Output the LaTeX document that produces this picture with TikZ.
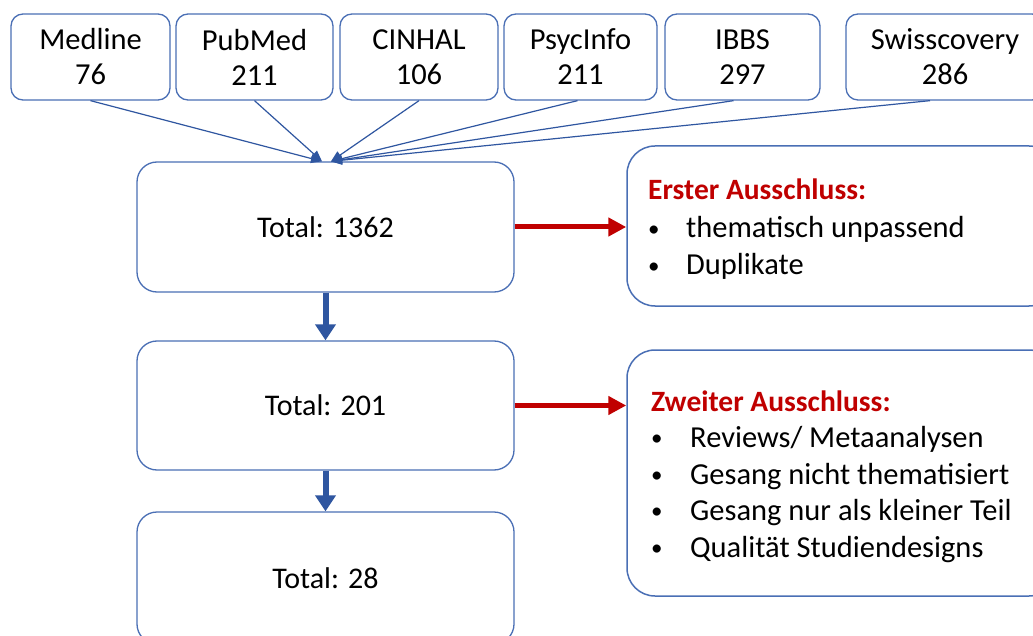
\documentclass[tikz,border=0pt]{standalone}
\usepackage{fontspec}
\setmainfont{Carlito}
\usetikzlibrary{arrows.meta,calc}
\definecolor{boxblue}{HTML}{4A6FB5}
\definecolor{arrblue}{HTML}{2F56A0}
\definecolor{exred}{HTML}{C00000}
\tikzset{
 src/.style={draw=boxblue, line width=1.3pt, rounded corners=12pt, minimum height=86pt, align=center, font=\fontsize{30.5}{35}\selectfont, inner sep=0pt},
 tot/.style={draw=boxblue, line width=1.3pt, rounded corners=20pt, minimum width=377pt, font=\fontsize{30}{33}\selectfont},
 exbox/.style={draw=boxblue, line width=1.5pt, rounded corners=28pt, minimum width=430pt},
 feed/.style={draw=arrblue, line width=1.2pt, -{Triangle[length=11pt,width=9pt]}},
 down/.style={draw=arrblue, line width=6pt, -{Triangle[length=16pt,width=20pt]}},
 excl/.style={draw=exred, line width=5pt, -{Triangle[length=18pt,width=18pt]}},
 txt/.style={anchor=base west, inner sep=0pt, font=\fontsize{30.5}{35}\selectfont},
 head/.style={anchor=base west, inner sep=0pt, text=exred, font=\fontsize{29.5}{35}\selectfont\bfseries}
}
\newcommand{\bul}{\makebox[35pt][l]{\raisebox{1.5pt}{\fontsize{23}{23}\selectfont •}}}
\begin{document}
\begin{tikzpicture}[x=1pt,y=-1pt]
\useasboundingbox (0,0) rectangle (1033,636);
\fill[white] (0,0) rectangle (1033,636);
\clip (0,0) rectangle (1033,636);
% source boxes
\node[src, minimum width=159pt] (med) at (90.5,57) {Medline\\76};
\node[src, minimum width=157pt] (pub) at (254.5,57) {PubMed\\211};
\node[src, minimum width=158pt] (cin) at (419,57) {CINHAL\\106};
\node[src, minimum width=153pt] (psy) at (580.5,57) {PsycInfo\\211};
\node[src, minimum width=155pt] (ibb) at (742.5,57) {IBBS\\297};
\node[src, minimum width=198pt] (swi) at (945,57) {Swisscovery\\286};
% totals
\node[tot, minimum height=130pt] (t1) at (325.5,227) {Total: 1362};
\node[tot, minimum height=129pt] (t2) at (325.5,405.5) {Total: 201};
\node[tot, minimum height=132pt] (t3) at (325.5,578) {Total: 28};
% exclusion boxes
\node[exbox, minimum height=160pt] (e1) at (842,226) {};
\node[exbox, minimum height=246pt] (e2) at (842,473) {};
\coordinate (inl) at ($(t1.north)+(-3.5,0)$);
\coordinate (inr) at ($(t1.north)+(5.5,0)$);
% feed arrows
\draw[feed] (med.south) -- (inl);
\draw[feed] (pub.south) -- (inl);
\draw[feed] (cin.south) -- (inr);
\draw[feed] ($(psy.south)+(-3,0)$) -- (inr);
\draw[feed] ($(ibb.south)+(-9,0)$) -- (inr);
\draw[feed] ($(swi.south)+(-15,0)$) -- (inr);
% down arrows
\draw[down] (t1.south) -- (t2.north);
\draw[down] (t2.south) -- (t3.north);
% exclusion arrows
\draw[excl] (t1.east) -- (t1.east -| e1.west);
\draw[excl] (t2.east) -- (t2.east -| e2.west);
% exclusion texts
\node[head] (e1h) at (648,200) {Erster Ausschluss:};
\node[txt] (e1a) at (648,238) {\bul\hspace{3pt}thematisch unpassend};
\node[txt] (e1b) at (648,275) {\bul\hspace{3pt}Duplikate};
\node[head] (e2h) at (651,411) {Zweiter Ausschluss:};
\node[txt] (e2a) at (651,447) {\bul\hspace{4pt}Reviews/ Metaanalysen};
\node[txt] (e2b) at (651,484) {\bul\hspace{4pt}Gesang nicht thematisiert};
\node[txt] (e2c) at (651,520) {\bul\hspace{4pt}Gesang nur als kleiner Teil};
\node[txt] (e2d) at (651,557) {\bul\hspace{4pt}Qualität Studiendesigns};
\end{tikzpicture}
\end{document}
